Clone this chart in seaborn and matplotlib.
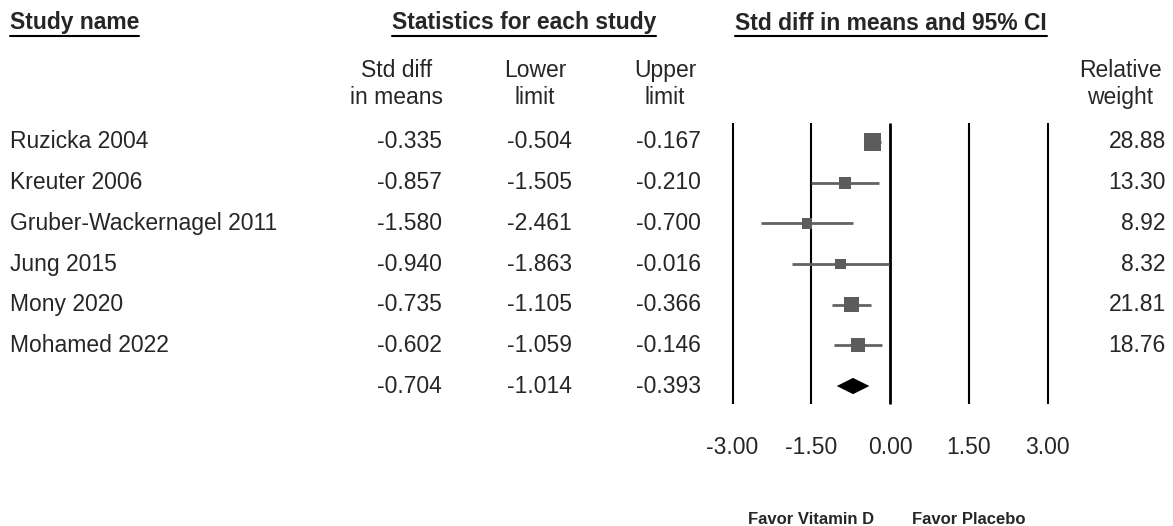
import matplotlib
matplotlib.use("Agg")
import numpy as np
import pandas as pd
import matplotlib.pyplot as plt
import seaborn as sns

# data
studies = ["Ruzicka 2004", "Kreuter 2006", "Gruber-Wackernagel 2011",
           "Jung 2015", "Mony 2020", "Mohamed 2022"]
std_diff = [-0.335, -0.857, -1.580, -0.940, -0.735, -0.602]
lower = [-0.504, -1.505, -2.461, -1.863, -1.105, -1.059]
upper = [-0.167, -0.210, -0.700, -0.016, -0.366, -0.146]
weights = [28.88, 13.30, 8.92, 8.32, 21.81, 18.76]
pooled = [-0.704, -1.014, -0.393]
ticks = [-3.0, -1.5, 0.0, 1.5, 3.0]

sns.set_theme(style="white")
plt.rcParams["font.family"] = ["Liberation Sans", "DejaVu Sans"]

W, H = 1173, 526
fig = plt.figure(figsize=(W / 100, H / 100), dpi=100)
ax = fig.add_axes([0, 0, 1, 1])

# layout helpers: pixel -> axes fraction (x), pixel -> row units (y)
ppu = 52.5          # pixels per std diff unit
zero_px = 890
row0_px, row_h = 142, 40.67
fx = lambda px: px / W
ry = lambda px: (px - row0_px) / row_h
tr = ax.get_yaxis_transform()

df = pd.DataFrame({"study": studies, "d": std_diff, "lo": lower, "hi": upper,
                   "weight": weights, "row": np.arange(len(studies))})
sum_row = len(studies)

# forest part
ax.vlines(ticks, ry(123), ry(404), color="black",
          lw=[1.5, 1.5, 2.0, 1.5, 1.5], zorder=1)
ax.hlines(df["row"], df["lo"], df["hi"], color="#626262", lw=2.0, zorder=2)
sns.scatterplot(data=df, x="d", y="row", size="weight", sizes=(55, 152),
                marker="s", color="#5c5c5c", linewidth=0, legend=False,
                ax=ax, zorder=3)
ax.fill([pooled[1], pooled[0], pooled[2], pooled[0]],
        [sum_row, sum_row - 0.2, sum_row, sum_row + 0.2],
        color="black", lw=0, zorder=3)

ax.set_xlim(-zero_px / ppu, (W - zero_px) / ppu)
ax.set_ylim(ry(H), ry(0))
ax.axis("off")

fs = 16.5
# table rows
for i, r in df.iterrows():
    ax.text(fx(10), r["row"], r["study"], transform=tr, fontsize=fs,
            ha="left", va="center")
    ax.text(fx(1166), r["row"], f"{r['weight']:.2f}", transform=tr,
            fontsize=fs, ha="right", va="center")
for row, vals in list(zip(df["row"], zip(std_diff, lower, upper))) + [(sum_row, pooled)]:
    for px, v in zip([442, 572, 701], vals):
        ax.text(fx(px), row, f"{v:.3f}", transform=tr, fontsize=fs,
                ha="right", va="center")

# column headers
ax.text(fx(397), ry(84), "Std diff\nin means", transform=tr, fontsize=fs,
        ha="center", va="center")
ax.text(fx(535), ry(84), "Lower\nlimit", transform=tr, fontsize=fs,
        ha="center", va="center")
ax.text(fx(665), ry(84), "Upper\nlimit", transform=tr, fontsize=fs,
        ha="center", va="center")
ax.text(fx(1120), ry(84), "Relative\nweight", transform=tr, fontsize=fs,
        ha="center", va="center")

titles = [
    ax.text(fx(10), ry(23), "Study name", transform=tr, fontsize=fs,
            fontweight="bold", ha="left", va="center"),
    ax.text(fx(524), ry(23), "Statistics for each study", transform=tr,
            fontsize=fs, fontweight="bold", ha="center", va="center"),
    ax.text(fx(891), ry(23), "Std diff in means and 95% CI", transform=tr,
            fontsize=fs, fontweight="bold", ha="center", va="center"),
]

# tick labels and direction labels
for t in ticks:
    ax.text(t, ry(447), f"{t:.2f}", fontsize=fs, ha="center", va="center")
ax.text(-1.5, ry(519), "Favor Vitamin D", fontsize=12, fontweight="bold",
        ha="center", va="center")
ax.text(1.5, ry(519), "Favor Placebo", fontsize=12, fontweight="bold",
        ha="center", va="center")

# underline the section titles
fig.canvas.draw()
renderer = fig.canvas.get_renderer()
for t in titles:
    bb = t.get_window_extent(renderer)
    y = (H - 36) / H
    fig.add_artist(plt.Line2D([bb.x0 / W, bb.x1 / W], [y, y],
                              transform=fig.transFigure, color="black", lw=1.5))

fig.savefig("out.png", dpi=100)
